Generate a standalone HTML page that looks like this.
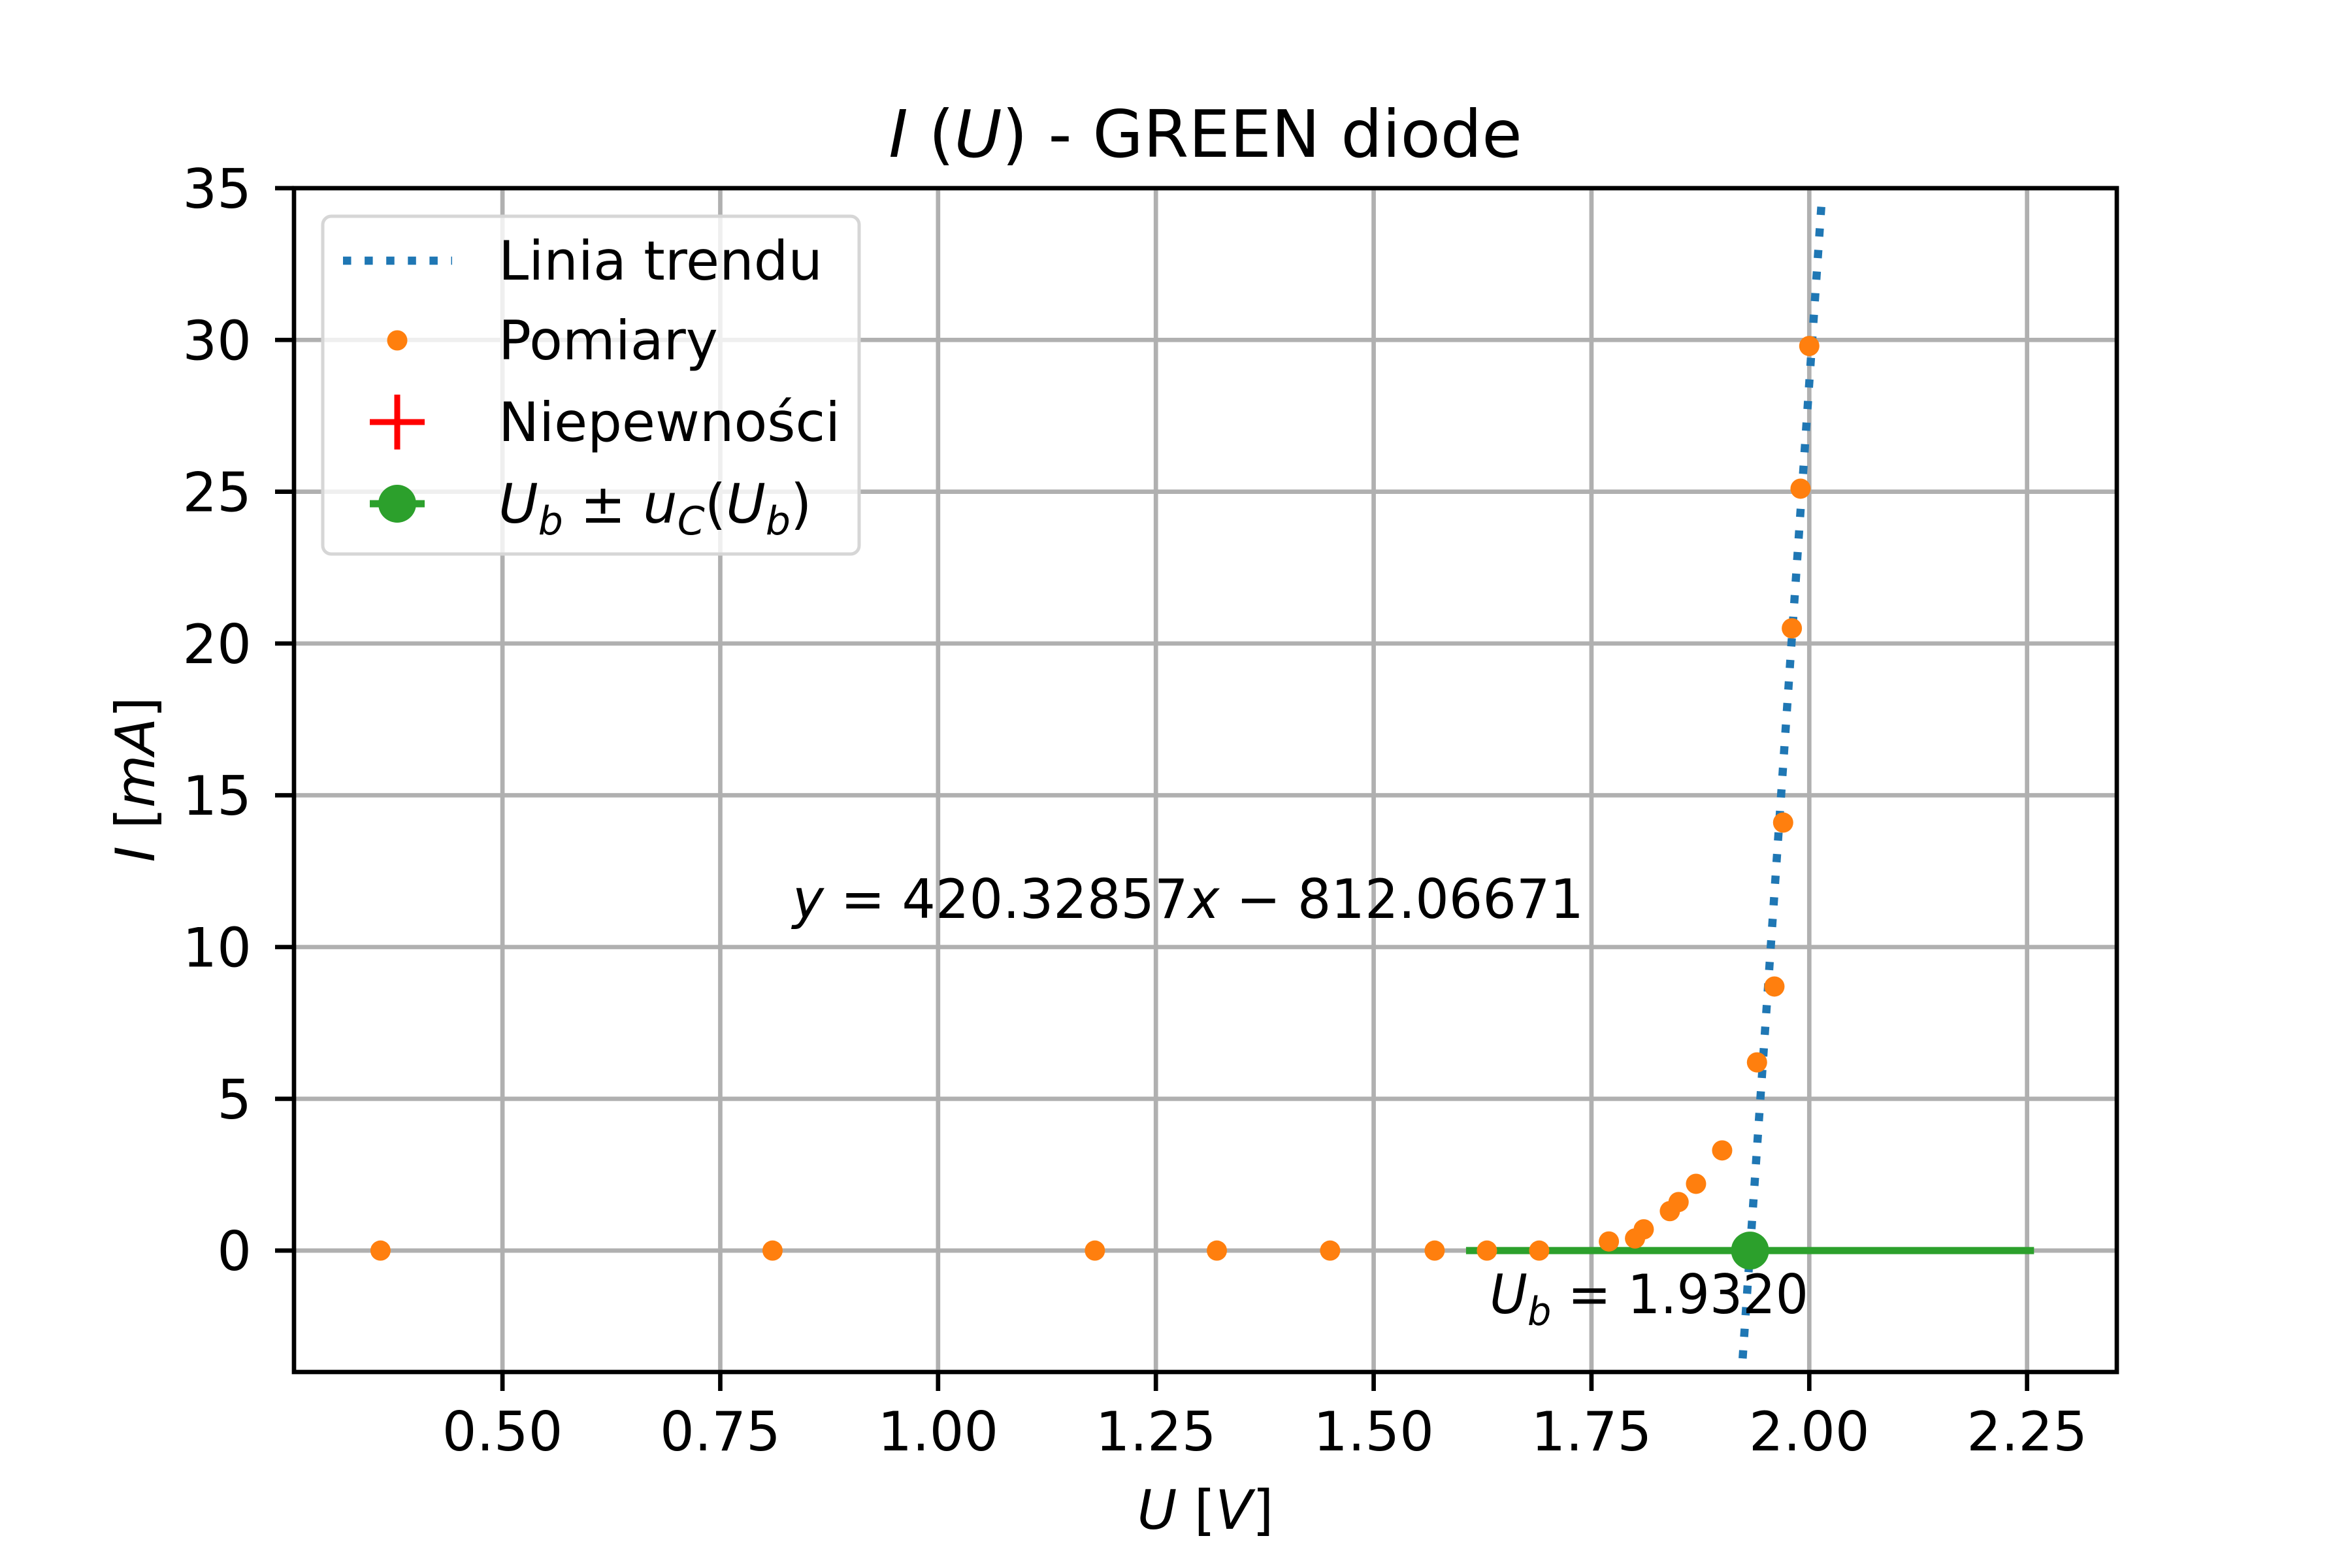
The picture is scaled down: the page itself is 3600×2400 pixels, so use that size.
<!DOCTYPE html>
<html><head><meta charset="utf-8"><style>
html,body{margin:0;padding:0;background:#fff;overflow:hidden;width:3600px;height:2400px;}
svg{display:block;position:absolute;left:0;top:0;font-family:"DejaVu Sans","Liberation Sans",sans-serif;}
</style></head><body>
<svg id="chart" width="3600" height="2400" viewBox="0 0 3600 2400" xmlns="http://www.w3.org/2000/svg">
<rect width="3600" height="2400" fill="#fff"/>
<g id="grid"></g>
<g id="series"></g>
<rect x="450" y="288" width="2790" height="1812" fill="none" stroke="#000" stroke-width="6.7"/>
<g id="ticks"></g>
<text x="1845" y="240" font-size="100" text-anchor="middle"><tspan font-style="italic">I</tspan> (<tspan font-style="italic">U</tspan>) - GREEN diode</text>
<text x="1845" y="2340" font-size="83" text-anchor="middle"><tspan font-style="italic">U</tspan> [<tspan font-style="italic">V</tspan>]</text>
<text transform="translate(236,1193) rotate(-90)" font-size="83" text-anchor="middle"><tspan font-style="italic">I</tspan> [<tspan font-style="italic">mA</tspan>]</text>
<text x="1213" y="1405" font-size="83" textLength="1211" lengthAdjust="spacingAndGlyphs"><tspan font-style="italic">y</tspan> = 420.32857<tspan font-style="italic">x</tspan> − 812.06671</text>
<text x="2280" y="2010" font-size="83" textLength="488" lengthAdjust="spacingAndGlyphs"><tspan font-style="italic">U</tspan><tspan font-style="italic" font-size="60" dy="18">b</tspan><tspan dy="-18"> = 1.9320</tspan></text>
<g id="legend">
<rect x="494" y="331" width="821" height="517" rx="13" fill="#fff" fill-opacity="0.8" stroke="#d6d6d6" stroke-width="5"/>
<line x1="525" y1="399" x2="692" y2="399" stroke="#1f77b4" stroke-width="12.5" stroke-dasharray="12.5 20.6"/>
<text x="763" y="428" font-size="83">Linia trendu</text>
<circle cx="608" cy="521" r="15.5" fill="#ff7f0e"/>
<text x="763" y="550" font-size="83">Pomiary</text>
<line x1="566" y1="646" x2="650" y2="646" stroke="#ff0000" stroke-width="9"/>
<line x1="608" y1="604" x2="608" y2="688" stroke="#ff0000" stroke-width="9"/>
<text x="763" y="675" font-size="83">Niepewności</text>
<line x1="566" y1="771" x2="650" y2="771" stroke="#2ca02c" stroke-width="11"/>
<circle cx="608" cy="771" r="29" fill="#2ca02c"/>
<text x="763" y="800" font-size="83"><tspan font-style="italic">U</tspan><tspan font-style="italic" font-size="60" dy="18">b</tspan><tspan dy="-18"> ± </tspan><tspan font-style="italic">u</tspan><tspan font-style="italic" font-size="60" dy="18">C</tspan><tspan dy="-18">(</tspan><tspan font-style="italic">U</tspan><tspan font-style="italic" font-size="60" dy="18">b</tspan><tspan dy="-18">)</tspan></text>
</g>
</svg>
<script>
const uValues = [0.36,0.81,1.18,1.32,1.45,1.57,1.63,1.69,1.77,1.80,1.81,1.84,1.85,1.87,1.90,1.94,1.96,1.97,1.98,1.99,2.00];
const iValues = [0,0,0,0,0,0,0,0,0.3,0.4,0.7,1.3,1.6,2.2,3.3,6.2,8.7,14.1,20.5,25.1,29.8];
const xTicks = [0.5,0.75,1.0,1.25,1.5,1.75,2.0,2.25];
const xTickLabels = ["0.50","0.75","1.00","1.25","1.50","1.75","2.00","2.25"];
const yTicks = [0,5,10,15,20,25,30,35];
const yTickLabels = ["0","5","10","15","20","25","30","35"];
const trendSlope = 420.32857;
const trendIntercept = -812.06671;
const trendRange = [1.91, 2.0146];
const ubValue = [1.932];
const ubUncert = [0.326];

const NS = "http://www.w3.org/2000/svg";
const L=450,R=3240,T=288,B=2100,X0=0.2607,X1=2.353,Y0=-4.0,Y1=35;
function sx(v){return L+(v-X0)/(X1-X0)*(R-L);}
function sy(v){return B-(v-Y0)/(Y1-Y0)*(B-T);}
function mk(tag,attrs,parent){const e=document.createElementNS(NS,tag);for(const k in attrs)e.setAttribute(k,attrs[k]);parent.appendChild(e);return e;}
const grid=document.getElementById('grid'),ticks=document.getElementById('ticks'),series=document.getElementById('series');
xTicks.forEach((v,i)=>{
  const g=mk('line',{x1:sx(v),x2:sx(v),y1:T,y2:B,stroke:'#b0b0b0','stroke-width':6.7},grid);
  
  
  const t=mk('line',{x1:sx(v),x2:sx(v),y1:B,y2:B+29,stroke:'#000','stroke-width':6.7},ticks);
  
  
  const tx=mk('text',{x:sx(v),y:2220,'font-size':83,'text-anchor':'middle'},ticks);
  tx.textContent=xTickLabels[i];
  
  
});
yTicks.forEach((v,i)=>{
  const g=mk('line',{x1:L,x2:R,y1:sy(v),y2:sy(v),stroke:'#b0b0b0','stroke-width':6.7},grid);
  
  
  const t=mk('line',{x1:L-29,x2:L,y1:sy(v),y2:sy(v),stroke:'#000','stroke-width':6.7},ticks);
  
  
  const tx=mk('text',{x:385,y:sy(v)+30,'font-size':83,'text-anchor':'end'},ticks);
  tx.textContent=yTickLabels[i];
  
  
});
const eb=mk('line',{x1:sx(ubValue[0]-ubUncert[0]),x2:sx(ubValue[0]+ubUncert[0]),y1:sy(0),y2:sy(0),stroke:'#2ca02c','stroke-width':11},series);


const clip=mk('clipPath',{id:'axclip'},series);
mk('rect',{x:L,y:T,width:R-L,height:B-T},clip);
const tl=mk('line',{x1:sx(trendRange[0]),y1:sy(trendSlope*trendRange[0]+trendIntercept),x2:sx(trendRange[1]),y2:sy(trendSlope*trendRange[1]+trendIntercept),stroke:'#1f77b4','stroke-width':12.5,'stroke-dasharray':'12.5 20.6','clip-path':'url(#axclip)'},series);


uValues.forEach((u,i)=>{
  const c=mk('circle',{cx:sx(u),cy:sy(iValues[i]),r:15.5,fill:'#ff7f0e'},series);
  
  
});
const ubm=mk('circle',{cx:sx(ubValue[0]),cy:sy(0),r:29,fill:'#2ca02c'},series);


</script>
</body></html>
